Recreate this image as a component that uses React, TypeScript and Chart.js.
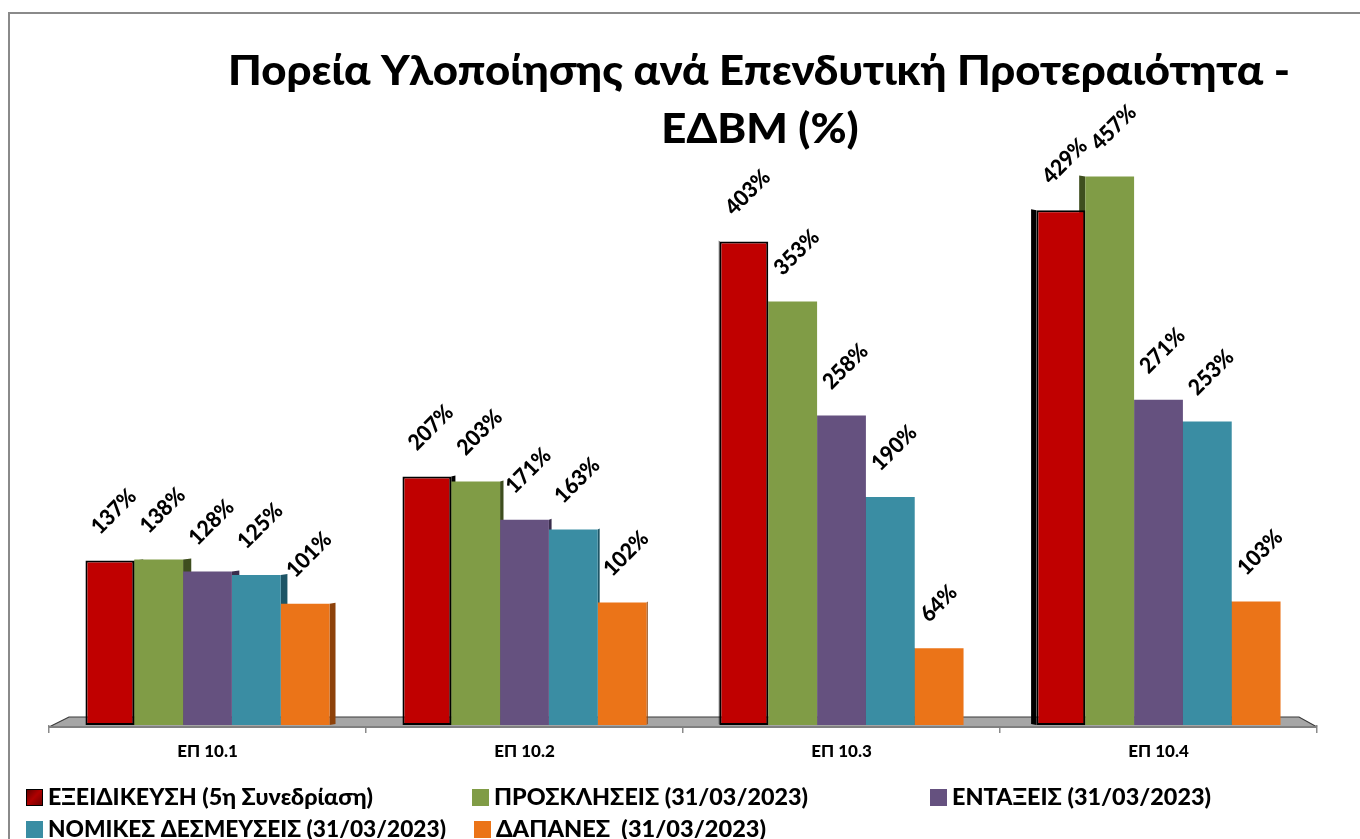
import React, { useEffect, useRef } from 'react';
import { Chart, registerables } from 'chart.js';

Chart.register(...registerables);

// ---- data ----
const categories = ['ΕΠ 10.1', 'ΕΠ 10.2', 'ΕΠ 10.3', 'ΕΠ 10.4'];
const seriesNames = [
  'ΕΞΕΙΔΙΚΕΥΣΗ (5η Συνεδρίαση)',
  'ΠΡΟΣΚΛΗΣΕΙΣ (31/03/2023)',
  'ΕΝΤΑΞΕΙΣ (31/03/2023)',
  'ΝΟΜΙΚΕΣ ΔΕΣΜΕΥΣΕΙΣ (31/03/2023)',
  'ΔΑΠΑΝΕΣ  (31/03/2023)',
];
const exeidikeusi = [137, 207, 403, 429];
const prosklhseis = [138, 203, 353, 457];
const entaxeis = [128, 171, 258, 271];
const nomikesDesmeuseis = [125, 163, 190, 253];
const dapanes = [101, 102, 64, 103];
const titleLines = ['Πορεία Υλοποίησης ανά Επενδυτική Προτεραιότητα -', 'ΕΔΒΜ (%)'];

// ---- styles ----
const seriesColors = ['#C00000', '#809C46', '#65517F', '#3A8DA3', '#EB7418'];
const sideColors = ['#000000', '#3E4E1E', '#3A2D4C', '#1D5566', '#8E420A'];
const FONT = 'Lato, "Open Sans", "DejaVu Sans", sans-serif';

const legendLayout = [
  { x: 26, y: 797, w: 325 },
  { x: 472, y: 797, w: 314 },
  { x: 930, y: 797, w: 259 },
  { x: 26, y: 829, w: 398 },
  { x: 474, y: 829, w: 270 },
];

function drawFitted(ctx: CanvasRenderingContext2D, text: string, x: number, y: number, align: CanvasTextAlign, width?: number) {
  const w = ctx.measureText(text).width;
  const k = width ? width / w : 1;
  ctx.save();
  ctx.translate(x, y);
  ctx.scale(k, 1);
  ctx.textAlign = align;
  ctx.textBaseline = 'alphabetic';
  ctx.fillText(text, 0, 0);
  ctx.restore();
  return k;
}

const decorPlugin = {
  id: 'decor',
  beforeDraw(chart: any) {
    const ctx: CanvasRenderingContext2D = chart.ctx;
    ctx.save();
    ctx.fillStyle = '#ffffff';
    ctx.fillRect(0, 0, chart.width, chart.height);
    ctx.strokeStyle = '#8a8a8a';
    ctx.lineWidth = 2;
    ctx.strokeRect(9, 13, 3000, 3000);
    ctx.restore();
  },
  beforeDatasetsDraw(chart: any) {
    const ctx: CanvasRenderingContext2D = chart.ctx;
    const { left: L, right: R, bottom: B } = chart.chartArea;
    ctx.save();
    // floor
    ctx.beginPath();
    ctx.moveTo(L, B + 2);
    ctx.lineTo(L + 20, B - 8);
    ctx.lineTo(R - 18, B - 8);
    ctx.lineTo(R, B + 2);
    ctx.closePath();
    ctx.fillStyle = '#a6a6a6';
    ctx.fill();
    ctx.beginPath();
    ctx.moveTo(L, B + 2);
    ctx.lineTo(L + 20, B - 8);
    ctx.lineTo(R - 18, B - 8);
    ctx.lineTo(R, B + 2);
    ctx.strokeStyle = '#3a3a3a';
    ctx.lineWidth = 1.2;
    ctx.stroke();
    ctx.beginPath();
    ctx.moveTo(L, B + 2);
    ctx.lineTo(R, B + 2);
    ctx.strokeStyle = '#808080';
    ctx.lineWidth = 2;
    ctx.stroke();
    // 3D side faces
    const mid = (L + R) / 2 + 20;
    chart.data.datasets.forEach((_ds: any, i: number) => {
      const meta = chart.getDatasetMeta(i);
      meta.data.forEach((bar: any) => {
        const { x, y, base, width } = bar.getProps(['x', 'y', 'base', 'width'], true);
        const d = (x - mid) * 0.015;
        const edge = d > 0 ? x - width / 2 : x + width / 2;
        const far = d > 0 ? edge - Math.abs(d) : edge + Math.abs(d);
        ctx.beginPath();
        ctx.moveTo(edge, y);
        ctx.lineTo(far, y - 1);
        ctx.lineTo(far, base - 1);
        ctx.lineTo(edge, base);
        ctx.closePath();
        ctx.fillStyle = sideColors[i];
        ctx.fill();
      });
    });
    ctx.restore();
  },
  afterDatasetsDraw(chart: any) {
    const ctx: CanvasRenderingContext2D = chart.ctx;
    ctx.save();
    ctx.fillStyle = '#000';
    ctx.font = `900 22px ${FONT}`;
    chart.data.datasets.forEach((ds: any, i: number) => {
      const meta = chart.getDatasetMeta(i);
      meta.data.forEach((bar: any, j: number) => {
        const { x, y } = bar.getProps(['x', 'y'], true);
        ctx.save();
        ctx.translate(x - 15, y - 30);
        ctx.rotate(-Math.PI / 4);
        ctx.textAlign = 'left';
        ctx.textBaseline = 'middle';
        ctx.scale(0.95, 1);
        ctx.fillText(`${ds.data[j]}%`, 0, 0);
        ctx.restore();
      });
    });
    ctx.restore();
  },
  afterDraw(chart: any) {
    const ctx: CanvasRenderingContext2D = chart.ctx;
    ctx.save();
    ctx.fillStyle = '#000';
    // title
    ctx.font = `900 41px ${FONT}`;
    const k = drawFitted(ctx, titleLines[0], 759, 85, 'center', 1062);
    ctx.save();
    ctx.translate(760, 143);
    ctx.scale(k, 1);
    ctx.textAlign = 'center';
    ctx.fillText(titleLines[1], 0, 0);
    ctx.restore();
    // legend
    ctx.font = `900 22px ${FONT}`;
    seriesNames.forEach((name, i) => {
      const p = legendLayout[i];
      if (i === 0) {
        const g = ctx.createLinearGradient(p.x, p.y - 8, p.x + 17, p.y + 8);
        g.addColorStop(0, '#5a0000');
        g.addColorStop(0.5, '#b00000');
        g.addColorStop(1, '#6a0000');
        ctx.fillStyle = g;
      } else {
        ctx.fillStyle = seriesColors[i];
      }
      ctx.fillRect(p.x, p.y - 8, 17, 17);
      if (i === 0) {
        ctx.strokeStyle = '#000';
        ctx.lineWidth = 1;
        ctx.strokeRect(p.x + 0.5, p.y - 7.5, 16, 16);
      }
      ctx.fillStyle = '#000';
      drawFitted(ctx, name, p.x + 22, p.y + 8, 'left', p.w);
    });
    ctx.restore();
  },
};

export default function App() {
  const ref = useRef<HTMLCanvasElement>(null);
  useEffect(() => {
    if (!ref.current) return;
    const seriesValues = [exeidikeusi, prosklhseis, entaxeis, nomikesDesmeuseis, dapanes];
    const chart = new Chart(ref.current, {
      type: 'bar',
      data: {
        labels: categories,
        datasets: seriesValues.map((vals, i) => ({
          label: seriesNames[i],
          data: vals,
          backgroundColor: seriesColors[i],
          borderColor: i === 0 ? '#000000' : seriesColors[i],
          borderWidth: i === 0 ? 2 : 0,
          borderSkipped: false,
          categoryPercentage: 0.77,
          barPercentage: 1.0,
        })),
      },
      options: {
        responsive: false,
        animation: false,
        events: [],
        layout: { padding: { left: 49, right: 43, top: 125, bottom: 74 } },
        plugins: {
          legend: { display: false },
          title: { display: false },
          tooltip: { enabled: false },
        },
        scales: {
          x: {
            offset: true,
            border: { display: false },
            grid: {
              display: true,
              offset: true,
              drawOnChartArea: false,
              drawTicks: true,
              tickLength: 8,
              color: '#8a8a8a',
              lineWidth: 1.5,
            },
            ticks: {
              color: '#000',
              padding: 8,
              font: { family: FONT, size: 17, weight: '900' },
            },
            afterFit: (scale: any) => {
              scale.height = 40;
            },
          },
          y: {
            display: false,
            min: 0,
            max: 500,
          },
        },
      },
      plugins: [decorPlugin],
    } as any);
    return () => chart.destroy();
  }, []);
  return (
    <div style={{ position: 'fixed', left: 0, top: 0, width: 1360, height: 839, overflow: 'hidden', background: '#fff' }}>
      <canvas ref={ref} width={1360} height={839} style={{ display: 'block', width: 1360, height: 839 }} />
    </div>
  );
}
